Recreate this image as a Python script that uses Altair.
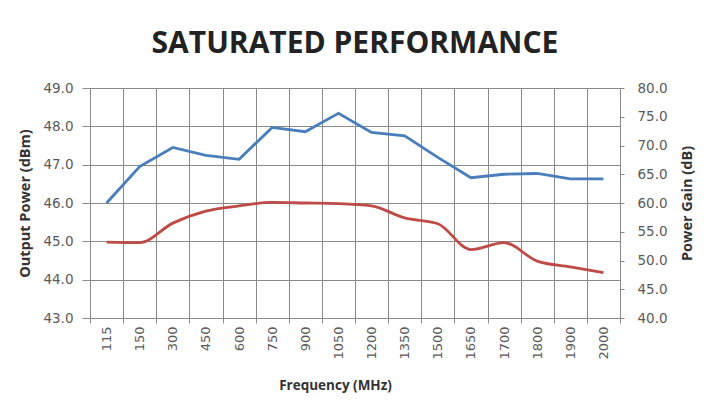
import altair as alt
import pandas as pd

freqs = ["115", "150", "300", "450", "600", "750", "900", "1050", "1200",
         "1350", "1500", "1650", "1700", "1800", "1900", "2000"]
output_power = [46.0, 46.95, 47.45, 47.24, 47.14, 47.97, 47.86, 48.34, 47.84,
                47.75, 47.19, 46.66, 46.75, 46.77, 46.63, 46.63]
power_gain = [53.2, 53.1, 56.5, 58.6, 59.5, 60.1, 60.0, 59.9, 59.5,
              57.4, 56.4, 51.9, 53.1, 49.9, 48.9, 47.9]

df = pd.DataFrame({"freq": freqs, "pout": output_power, "gain": power_gain})

W, H = 530, 230
gray = "#8a8a8a"
lbl = "#5a5a5a"
lblfont = "DejaVu Sans"

x = alt.X("freq:N", sort=freqs,
          scale=alt.Scale(paddingInner=0, paddingOuter=0),
          axis=alt.Axis(title="Frequency (MHz)", labelAngle=-90, tickBand="extent",
                        grid=True, gridColor=gray,
                        domainColor=gray, tickColor=gray, tickSize=5,
                        labelColor=lbl, labelFontSize=13, labelFont=lblfont,
                        labelPadding=3, titleFont="Open Sans", titleFontSize=13.5,
                        titleFontWeight="bold", titleColor="#333333",
                        titlePadding=19, titleX=245))

blue = alt.Chart(df).mark_line(color="#4A7EBB", strokeWidth=2.8).encode(
    x=x,
    y=alt.Y("pout:Q", scale=alt.Scale(domain=[43, 49], nice=False, zero=False),
            axis=alt.Axis(title="Output Power (dBm)", values=[43, 44, 45, 46, 47, 48, 49],
                          format=".1f", grid=True, gridColor=gray, domainColor=gray,
                          tickColor=gray, tickSize=8, labelColor=lbl, labelFontSize=13.5,
                          labelFont=lblfont, labelPadding=9, titleFont="Open Sans",
                          titleFontSize=14.5, titleFontWeight="bold", titleColor="#333333",
                          titlePadding=10))
)

red = alt.Chart(df).mark_line(color="#BE4B48", strokeWidth=2.8, interpolate="monotone").encode(
    x=x,
    y=alt.Y("gain:Q", scale=alt.Scale(domain=[40, 80], nice=False, zero=False),
            axis=alt.Axis(title="Power Gain (dB)", orient="right", titleAngle=-90,
                          values=[40, 45, 50, 55, 60, 65, 70, 75, 80],
                          format=".1f", grid=False, domainColor=gray,
                          tickColor=gray, tickSize=4, labelColor=lbl, labelFontSize=13.5,
                          labelFont=lblfont, labelPadding=13, titleFont="Open Sans",
                          titleFontSize=14.5, titleFontWeight="bold", titleColor="#333333",
                          titlePadding=27))
)

chart = alt.layer(blue, red).resolve_scale(y="independent").properties(
    width=W, height=H,
    autosize=alt.AutoSizeParams(type="none"),
    padding={"left": 82, "top": 80, "right": 80, "bottom": 82},
    title=alt.TitleParams("SATURATED PERFORMANCE", font="Open Sans", fontSize=30,
                          fontWeight="bold", color="#222222", anchor="middle",
                          offset=22),
).configure_view(stroke=gray).configure(background="white")

chart.save("out.html", embed_options={"renderer": "svg", "actions": False})
